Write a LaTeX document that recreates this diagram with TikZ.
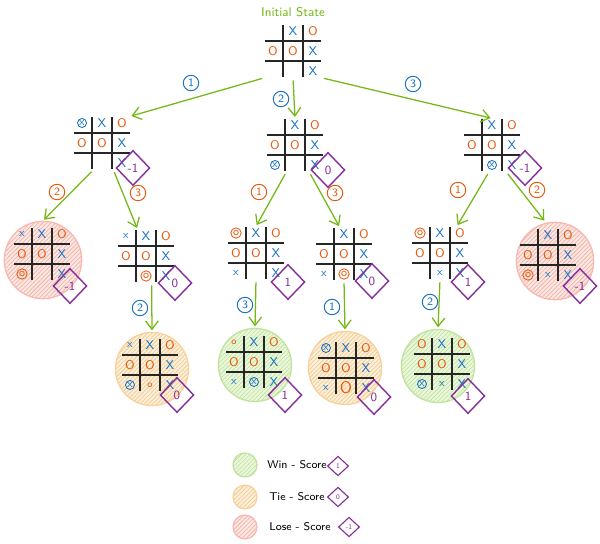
\documentclass[tikz,border=0pt]{standalone}
\usepackage{tikz}
\usetikzlibrary{arrows.meta, positioning, shapes.geometric, patterns}
\usepackage{xcolor}
\tikzset{>=Latex}

\definecolor{xblue}{HTML}{1971C2}
\definecolor{oorange}{HTML}{E8590C}
\definecolor{scorepurple}{HTML}{862E9C}
\definecolor{edgegreen}{HTML}{74B816}
\definecolor{winfill}{HTML}{EAF7DC}
\definecolor{winline}{HTML}{BFE39A}
\definecolor{tiefill}{HTML}{FFEEDC}
\definecolor{tieline}{HTML}{FFCF9A}
\definecolor{losefill}{HTML}{FFE6E6}
\definecolor{loseline}{HTML}{FFB3B3}

\tikzset{
  boardbox/.style={minimum width=39pt, minimum height=37pt, inner sep=0pt},
  gridline/.style={line width=0.9pt, black!85},
  mk/.style={#1},
  xm/.style={text=xblue, font=\sffamily\small, node contents={X}},
  xs/.style={text=xblue, font=\sffamily\footnotesize, node contents={x}},
  om/.style={text=oorange, font=\sffamily\small, node contents={O}},
  os/.style={text=oorange, font=\sffamily\scriptsize, node contents={o}},
  ol/.style={text=oorange, font=\sffamily\large, node contents={O}},
  xc/.style={circle, draw=xblue, text=xblue, line width=0.6pt, inner sep=0.4pt, font=\sffamily\footnotesize, node contents={x}},
  oc/.style={circle, draw=oorange, text=oorange, line width=0.6pt, inner sep=0.6pt, font=\sffamily\footnotesize, node contents={o}},
  score/.style={diamond, draw=scorepurple, text=scorepurple, line width=1pt, minimum width=24pt, minimum height=25pt, inner sep=0pt, font=\sffamily\small},
  edge/.style={edgegreen, line width=0.9pt, shorten <=2pt, shorten >=1pt, -{Straight Barb[length=6pt, width=9pt]}},
  movex/.style={circle, draw=xblue, text=xblue, line width=0.7pt, minimum size=11pt, inner sep=0pt, font=\sffamily\footnotesize},
  moveo/.style={movex, draw=oorange, text=oorange},
  win/.style={circle, draw=winline, fill=winfill, postaction={pattern=north east lines, pattern color=winline}, minimum size=52pt},
  tie/.style={win, draw=tieline, fill=tiefill, postaction={pattern=north east lines, pattern color=tieline}},
  lose/.style={win, draw=loseline, fill=losefill, postaction={pattern=north east lines, pattern color=loseline}, minimum size=55pt},
  legendtext/.style={anchor=west, font=\sffamily\footnotesize},
  legendscore/.style={score, minimum width=15pt, minimum height=14pt, line width=0.8pt, font=\sffamily\tiny}
}

% Spielfeld: Name, x, y, Liste Zeile/Spalte/Zeichen
\newcommand{\board}[4]{%
  \node[boardbox] (#1) at (#2,#3) {};
  \draw[gridline] (#2-10,#3-26) -- (#2-10,#3+26);
  \draw[gridline] (#2+10,#3-26) -- (#2+10,#3+26);
  \draw[gridline] (#2-28,#3-10) -- (#2+28,#3-10);
  \draw[gridline] (#2-28,#3+10) -- (#2+28,#3+10);
  \foreach \row/\col/\sym in {#4}
    \node (#1-\row\col) at (#2+20*\col-40,#3+20*\row-40) [mk/.expanded=\sym];
}

\begin{document}
\begin{tikzpicture}[x=0.025cm, y=-0.025cm, line width=0.9pt]
  \useasboundingbox (0,0) rectangle (600,544);

  % Kreise für Endzustände
  \node[lose] (c12) at (43,260) {};
  \node[lose] (c32) at (555,261) {};
  \node[tie] (c132) at (152,369) {};
  \node[win] (c213) at (255,365) {};
  \node[tie] (c231) at (345,368) {};
  \node[win] (c312) at (438,366) {};

  % Startzustand
  \node[text=edgegreen, font=\sffamily\small] (title) at (293,12) {Initial State};
  \board{root}{293}{51}{1/2/xm, 1/3/om, 2/1/om, 2/2/om, 2/3/xm, 3/3/xm}

  % erste Ebene
  \board{b1}{102}{143}{1/1/xc, 1/2/xm, 1/3/om, 2/1/om, 2/2/om, 2/3/xm, 3/3/xm}
  \board{b2}{295}{145}{1/2/xm, 1/3/om, 2/1/om, 2/2/om, 2/3/xm, 3/1/xc, 3/3/xm}
  \board{b3}{492}{145}{1/2/xm, 1/3/om, 2/1/om, 2/2/om, 2/3/xm, 3/2/xc, 3/3/xm}

  % zweite Ebene
  \board{b12}{42}{254}{1/1/xs, 1/2/xm, 1/3/om, 2/1/om, 2/2/om, 2/3/xm, 3/1/oc, 3/3/xm}
  \board{b13}{146}{256}{1/1/xs, 1/2/xm, 1/3/om, 2/1/om, 2/2/om, 2/3/xm, 3/2/oc, 3/3/xm}
  \board{b21}{256}{253}{1/1/oc, 1/2/xm, 1/3/om, 2/1/om, 2/2/om, 2/3/xm, 3/1/xs, 3/3/xm}
  \board{b23}{344}{254}{1/2/xm, 1/3/om, 2/1/om, 2/2/om, 2/3/xm, 3/1/xs, 3/2/oc, 3/3/xm}
  \board{b31}{440}{253}{1/1/oc, 1/2/xm, 1/3/om, 2/1/om, 2/2/om, 2/3/xm, 3/2/xs, 3/3/xm}
  \board{b32}{548}{255}{1/2/xm, 1/3/om, 2/1/om, 2/2/om, 2/3/xm, 3/1/oc, 3/2/xs, 3/3/xm}

  % dritte Ebene
  \board{b132}{150}{365}{1/1/xs, 1/2/xm, 1/3/om, 2/1/om, 2/2/om, 2/3/xm, 3/1/xc, 3/2/os, 3/3/xm}
  \board{b213}{254}{362}{1/1/os, 1/2/xm, 1/3/om, 2/1/om, 2/2/om, 2/3/xm, 3/1/xs, 3/2/xc, 3/3/xm}
  \board{b231}{346}{368}{1/1/xc, 1/2/xm, 1/3/om, 2/1/om, 2/2/om, 2/3/xm, 3/1/xs, 3/2/ol, 3/3/xm}
  \board{b312}{442}{364}{1/1/om, 1/2/xm, 1/3/om, 2/1/om, 2/2/om, 2/3/xm, 3/1/xc, 3/2/xs, 3/3/xm}

  % Bewertungen
  \node[score] (s1) at (133,168) {-1};
  \node[score] (s2) at (328,170) {0};
  \node[score] (s3) at (525,168) {-1};
  \node[score] (s12) at (70,286) {-1};
  \node[score] (s13) at (175,283) {0};
  \node[score] (s21) at (288,282) {1};
  \node[score] (s23) at (372,281) {0};
  \node[score] (s31) at (468,282) {1};
  \node[score] (s32) at (580,286) {-1};
  \node[score] (s132) at (177,395) {0};
  \node[score] (s213) at (285,395) {1};
  \node[score] (s231) at (374,397) {0};
  \node[score] (s312) at (468,396) {1};

  % Pfeile
  \draw[edge] (root.south west) -- (b1.north east);
  \draw[edge] (root.south) -- (b2.north);
  \draw[edge] (root.south east) -- (b3.north);
  \draw[edge] ([xshift=-6pt]b1.south) -- (c12.north);
  \draw[edge] ([xshift=8pt]b1.south) -- ([xshift=-6pt]b13.north);
  \draw[edge] ([xshift=-6pt]b2.south) -- (b21.north);
  \draw[edge] ([xshift=10pt]b2.south) -- ([xshift=-3pt]b23.north);
  \draw[edge] ([xshift=-2pt]b3.south) -- ([xshift=12pt]b31.north);
  \draw[edge] ([xshift=10pt]b3.south) -- ([xshift=-7pt]c32.north);
  \draw[edge] ([xshift=4pt]b13.south) -- (c132.north);
  \draw[edge] (b21.south) -- (c213.north);
  \draw[edge] (b23.south) -- (c231.north);
  \draw[edge] (b31.south) -- (c312.north);

  % Zugnummern
  \node[movex] (m1) at (191,83) {1};
  \node[movex] (m2) at (281,99) {2};
  \node[movex] (m3) at (413,84) {3};
  \node[moveo] (m12) at (57,192) {2};
  \node[moveo] (m13) at (138,193) {3};
  \node[moveo] (m21) at (259,192) {1};
  \node[moveo] (m23) at (335,193) {3};
  \node[moveo] (m31) at (458,190) {1};
  \node[moveo] (m32) at (537,190) {2};
  \node[movex] (m132) at (140,308) {2};
  \node[movex] (m213) at (245,305) {3};
  \node[movex] (m231) at (332,307) {1};
  \node[movex] (m312) at (430,302) {2};

  % Legende
  \node[win, minimum size=17pt] (lwin) at (245,465) {};
  \node[legendtext] (twin) at (262,465) {Win - Score};
  \node[legendscore] (swin) at (338,466) {1};
  \node[tie, minimum size=17pt] (ltie) at (245,497) {};
  \node[legendtext] (ttie) at (264,497) {Tie - Score};
  \node[legendscore] (stie) at (338,497) {0};
  \node[lose, minimum size=17pt] (llose) at (245,527) {};
  \node[legendtext] (tlose) at (264,527) {Lose - Score};
  \node[legendscore] (slose) at (349,527) {-1};

\end{tikzpicture}
\end{document}
